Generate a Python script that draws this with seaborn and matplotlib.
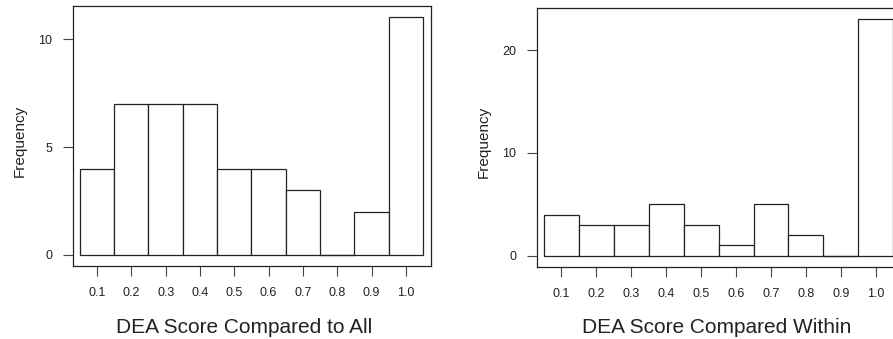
import numpy as np
import pandas as pd
import matplotlib
matplotlib.use('Agg')
import matplotlib.pyplot as plt
import seaborn as sns

# DEA skor histogramları: bin merkezleri ve frekanslar
skorlar = [0.1, 0.2, 0.3, 0.4, 0.5, 0.6, 0.7, 0.8, 0.9, 1.0]
frekans_tum = [4, 7, 7, 7, 4, 4, 3, 0, 2, 11]
frekans_ici = [4, 3, 3, 5, 3, 1, 5, 2, 0, 23]
x_etiketler = ['0.1', '0.2', '0.3', '0.4', '0.5', '0.6', '0.7', '0.8', '0.9', '1.0']
y_tikler_tum = [0, 5, 10]
y_tikler_ici = [0, 10, 20]

sns.set_style('ticks')
plt.rcParams['font.family'] = ['Liberation Sans', 'DejaVu Sans']

kenarlar = list(np.linspace(0.05, 1.05, 11))
koyu = '#222222'

fig = plt.figure(figsize=(8.93, 3.39), dpi=100)
ax1 = fig.add_axes([0.0817, 0.2153, 0.4009, 0.767])
ax2 = fig.add_axes([0.6013, 0.2124, 0.408, 0.764])


def ciz(ax, frekans, yt, ylim, xlabel, xl_pos, yl_pos):
    df = pd.DataFrame({'skor': skorlar, 'frekans': frekans})
    sns.histplot(data=df, x='skor', weights='frekans', bins=kenarlar, ax=ax,
                 color='white', edgecolor=koyu, linewidth=0.9, alpha=1)
    # sıfır yükseklikli kutular R'deki gibi düz çizgi olarak görünsün
    for i, f in enumerate(frekans):
        if f == 0:
            ax.hlines(0, kenarlar[i], kenarlar[i + 1], color=koyu, linewidth=0.9)
    ax.set_xlim(0.03, 1.073)
    ax.set_ylim(*ylim)
    ax.set_xticks(skorlar)
    ax.set_xticklabels(x_etiketler)
    ax.set_yticks(yt)
    ax.tick_params(direction='out', length=7, width=0.8, color='#444444',
                   labelsize=9, pad=8, labelcolor=koyu)
    for s in ax.spines.values():
        s.set_visible(True)
        s.set_color(koyu)
        s.set_linewidth(0.9)
    ax.set_xlabel(xlabel, fontsize=15, color=koyu)
    ax.set_ylabel('Frequency', fontsize=11, color=koyu)
    ax.xaxis.set_label_coords(*xl_pos)
    ax.yaxis.set_label_coords(*yl_pos)


ciz(ax1, frekans_tum, y_tikler_tum, (-0.51, 11.53), 'DEA Score Compared to All',
    (0.478, -0.2), (-0.13, 0.48))
ciz(ax2, frekans_ici, y_tikler_ici, (-1.1, 24.1), 'DEA Score Compared Within',
    (0.493, -0.197), (-0.127, 0.483))

plt.savefig('out.png', dpi=100)
